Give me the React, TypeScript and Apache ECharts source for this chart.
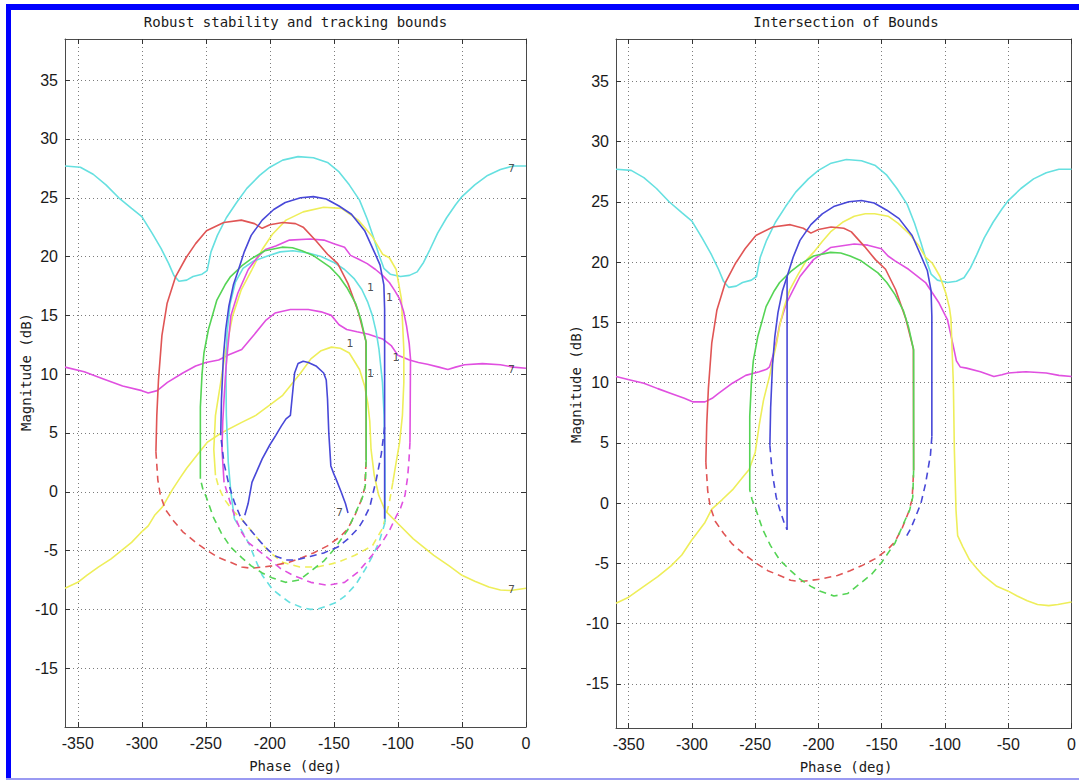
import React, { useEffect, useRef } from 'react';
import * as echarts from 'echarts';

// ---------- axis ticks / limits ----------
const phaseTicks = [-350, -300, -250, -200, -150, -100, -50, 0];
const magTicks = [-15, -10, -5, 0, 5, 10, 15, 20, 25, 30, 35];
const phaseLimits = [-360, 0];
const magLimitsLeft = [-20, 38.5];
const magLimitsRight = [-18.65, 38.5];

const titleLeft = 'Robust stability and tracking bounds';
const titleRight = 'Intersection of Bounds';
const xName = 'Phase (deg)';
const yName = 'Magnitude (dB)';

// ---------- shared bounds (phase deg, magnitude dB) ----------
const cyanTop = [
  [-360, 27.7], [-348, 27.6], [-338, 27], [-328, 26.1], [-318, 25], [-308, 24.1], [-300, 23.4], [-292, 22],
  [-285, 20.7], [-279, 19.4], [-275, 18.4], [-271, 17.9], [-265, 18.0], [-260, 18.3], [-253, 18.5], [-249, 18.8],
  [-246, 20.4], [-241, 21.8], [-234, 23.3], [-226, 24.6], [-218, 25.8], [-208, 26.9], [-200, 27.6], [-190, 28.2],
  [-178, 28.5], [-166, 28.4], [-155, 28.0], [-146, 27.2], [-138, 26.1], [-130, 24.8], [-124, 23.2], [-119, 21.6],
  [-115, 20.2], [-111, 19], [-106, 18.5], [-98, 18.3], [-91, 18.4], [-85, 18.7], [-80, 19.5], [-75, 20.6],
  [-69, 22], [-62, 23.3], [-55, 24.4], [-50, 25.1], [-40, 26.1], [-30, 26.9], [-20, 27.4], [-10, 27.7], [0, 27.7],
];

const redTop = [
  [-289, 3.4], [-288.3, 6.5], [-287, 9.5], [-284.3, 13.3], [-280.3, 16], [-273.6, 18.3], [-265.5, 19.9],
  [-258, 21.1], [-249.5, 22.2], [-236, 22.9], [-222.3, 23.1], [-212, 22.8], [-206, 22.4], [-200, 22.7],
  [-190, 22.9], [-180, 22.8], [-174, 22.5], [-163.7, 21.3], [-155, 20.2], [-147, 19.4], [-139, 17.7],
  [-131, 15.3], [-125, 12.8], [-124.8, 2.7],
];
const redBottom = [
  [-289, 3.4], [-287.5, 1], [-285.5, -0.3], [-281.6, -1.5], [-275, -2.5], [-268, -3.4], [-258, -4.3],
  [-249, -5.0], [-240, -5.6], [-230.7, -6.0], [-222, -6.4], [-214.6, -6.5], [-206, -6.4], [-198.5, -6.3],
  [-185, -6.0], [-175, -5.6], [-166, -5.2], [-155, -4.6], [-145, -3.8], [-139.5, -3.2], [-133.6, -2.0],
  [-129, -0.8], [-126, 0.3], [-124.8, 2.7],
];

const greenTop = [
  [-254.3, 1.1], [-254.3, 7.2], [-253, 10], [-251.5, 11.8], [-248, 13.8], [-241.4, 16.3], [-235, 17.6],
  [-230.7, 18.3], [-222, 19.2], [-214.6, 19.8], [-203.9, 20.5], [-190.5, 20.8], [-182.4, 20.75], [-175, 20.5],
  [-166.3, 20.1], [-153, 19.1], [-146, 18.3], [-139.5, 17.3], [-133, 16.0], [-128.8, 14.6], [-124.8, 12.7],
  [-124.8, 2.7],
];
const greenBottom = [
  [-124.8, 2.7], [-125.5, 0.5], [-128, -0.6], [-131.5, -1.4], [-139.5, -3.3], [-150, -4.9], [-158, -5.9],
  [-166.3, -6.6], [-177, -7.5], [-187.8, -7.7], [-198.5, -7.3], [-206, -6.9], [-214.6, -6.3], [-222, -5.6],
  [-230.7, -4.7], [-238, -3.5], [-244, -2.2], [-249.5, -0.5], [-252.5, 0.3], [-254.3, 1.1],
];

const blueTop = [
  [-238.4, 4.8], [-237.8, 7.9], [-236.3, 11.5], [-234.5, 13.8], [-232, 15.8], [-228.5, 17.6], [-224.8, 18.8],
  [-220, 20.4], [-214.6, 21.8], [-206, 23.1], [-197, 24], [-188, 24.6], [-176, 25], [-166, 25.1], [-156, 24.9],
  [-146, 24.3], [-136.3, 23.6], [-126, 22.2], [-118.5, 20.4], [-114, 19.3], [-111, 17.6], [-110.4, 15.5],
  [-110.4, 5.5],
];

// ---------- left panel only ----------
const magentaFlat = [
  [-360, 10.6], [-345, 10.2], [-330, 9.6], [-315, 9.0], [-300, 8.6], [-295, 8.4], [-288, 8.6], [-280, 9.3],
  [-268, 10.1], [-258, 10.7], [-250, 11.0], [-240, 11.2], [-233, 11.6], [-222, 12.1], [-212, 13.4], [-203, 14.6],
  [-196, 15.2], [-184, 15.5], [-170, 15.5], [-160, 15.3], [-152, 15.0], [-146, 14.2], [-140, 13.8], [-132, 13.6],
  [-123, 13.4], [-112, 13.0], [-105, 12.4], [-100, 11.6], [-91, 11.2], [-84, 11.0], [-77, 10.85], [-68, 10.6],
  [-61, 10.4], [-55, 10.6], [-48, 10.8], [-34, 10.9], [-20, 10.8], [-10, 10.6], [0, 10.5],
];

const yellowBig = [
  [-360, -8.2], [-350, -7.7], [-343, -7.1], [-334, -6.4], [-324, -5.7], [-316, -5.0], [-308, -4.3], [-301, -3.5],
  [-295, -2.9], [-290, -2.0], [-284, -1.3], [-276, 0.2], [-270, 1.2], [-265, 2.0], [-257, 3.1], [-249, 4.2],
  [-238, 5.0], [-222, 5.9], [-211, 6.5], [-201, 7.3], [-190, 8.2], [-182, 9.3], [-176, 10.1], [-168, 11.3],
  [-160, 12.0], [-152, 12.3], [-145, 12.2], [-138, 11.8], [-130, 10.4], [-126, 9.0], [-123.5, 7.5], [-122, 6],
  [-121, 3.6], [-118.5, 1.4], [-115, -0.3], [-110, -1.6], [-100, -2.7], [-88, -4.0], [-72, -5.4], [-60, -6.3],
  [-50, -7.1], [-40, -7.6], [-29, -8.1], [-20, -8.35], [-12, -8.4], [0, -8.2],
];

const yellowOvalTop = [
  [-242.5, 1.4], [-243.8, 3.6], [-242.5, 6.5], [-238.4, 9.3], [-234.4, 12.1], [-229, 15], [-222.3, 17.2],
  [-214, 18.9], [-206, 20.6], [-198, 21.9], [-187.4, 23.1], [-174, 23.8], [-158, 24.2], [-144, 24.1],
  [-131, 23.1], [-120, 21.7], [-112, 20.2], [-106.7, 19.9], [-101.4, 18.9], [-97.3, 16.4], [-95.4, 12.1],
  [-95.4, 9.3], [-96.5, 6.5], [-98.7, 4.2], [-101.4, 2.5], [-104, 0.8],
];
const yellowOvalBottom = [
  [-104, 0.8], [-106.7, -0.9], [-112, -3.1], [-120, -4.6], [-133.6, -5.4], [-147, -6.0], [-163, -6.4],
  [-176.6, -6.4], [-190, -6.0], [-200.8, -5.1], [-211.6, -3.7], [-222.3, -2.3], [-229, -1.6], [-235.8, -0.6],
  [-240, 0.4], [-242.5, 1.4],
];

const blueBottomLeft = [
  [-110.4, 5.5], [-113, 3.2], [-117, 1], [-122, -1.3], [-127, -2.4], [-131, -3.1], [-139, -4.0], [-147, -4.7],
  [-158, -5.2], [-168.5, -5.5], [-180, -5.8], [-187.4, -5.8], [-195, -5.5], [-200.8, -5.0], [-207, -4.3],
  [-214, -3.4], [-222.3, -2.3], [-227.7, -0.9], [-232, 0.6], [-235.8, 2.4], [-238.4, 4.8],
];
const blueVertLeft = [[-110.4, 5.5], [-110.4, -2.3]];

const blueSeven = [
  [-219.6, -2.0], [-217, -1.0], [-214, 0.8], [-210, 1.8], [-206, 2.8], [-200, 4.0], [-195.4, 4.8], [-191, 5.6],
  [-187.4, 6.2], [-184, 6.5], [-182, 8.7], [-180.7, 10.1], [-178, 10.9], [-174, 11.1], [-170, 11.0], [-164, 10.7],
  [-158, 10.1], [-156, 9.5], [-155, 7.9], [-154, 5], [-152.4, 2.2], [-150, 1.5], [-148.4, 1.1], [-144.4, 0],
  [-141, -1], [-139, -1.8],
];

const cyanOvalTop = [
  [-227.7, -2.3], [-230.5, 0], [-232.5, 2.5], [-234, 6.5], [-234.3, 10], [-233.5, 13.5], [-231, 16], [-227, 17.8],
  [-221, 19], [-213, 19.6], [-203, 20], [-192, 20.4], [-182, 20.5], [-170, 20.3], [-160, 20], [-150, 19.5],
  [-141.7, 18.9], [-134, 18.1], [-128.2, 17.2], [-123.5, 16.1], [-120, 15], [-117, 13.6], [-114.8, 12.1],
  [-112.1, 9.3], [-110.8, 6.5], [-110.2, 2], [-110, -2.6],
];
const cyanOvalBottom = [
  [-110, -2.6], [-114.8, -4.3], [-120, -5.5], [-125.6, -6.6], [-133, -7.9], [-141.7, -8.9], [-148, -9.4],
  [-155, -9.7], [-162, -9.95], [-168.5, -10], [-176, -9.8], [-184.7, -9.4], [-191, -8.9], [-198, -8.3],
  [-206, -7.1], [-211.6, -5.7], [-216, -4.5], [-222, -3.3], [-227.7, -2.3],
];

const magentaOvalTop = [
  [-235.8, 0.8], [-237.4, 3.6], [-236.8, 6], [-235.8, 7.9], [-234.3, 10.5], [-233, 12.1], [-230.4, 15],
  [-225, 16.9], [-216.9, 18.9], [-210, 19.9], [-203.5, 20.6], [-195.4, 20.9], [-184.7, 21.4], [-168.6, 21.5],
  [-157.8, 21.4], [-150, 21.1], [-141.7, 20.8], [-137, 20.1], [-131, 19.8], [-124, 19.4], [-117.5, 18.9],
  [-112, 18.4], [-106.7, 17.8], [-102.5, 17.1], [-98.7, 16.4], [-95.5, 15.3], [-93.3, 14.1], [-91.2, 12.6],
  [-90.2, 11.3], [-90.4, 7.5], [-90.6, 4.2],
];
const magentaOvalBottom = [
  [-90.6, 4.2], [-91.5, 2.5], [-92.5, 1.2], [-94.5, -0.3], [-98, -1.4], [-101.4, -2.1], [-106.7, -3.3],
  [-113, -4.4], [-120.2, -5.4], [-131, -6.8], [-141.7, -7.7], [-155, -7.95], [-168, -7.7], [-182, -7.1],
  [-192, -6.5], [-200.8, -5.7], [-210, -4.9], [-217, -4.3], [-222.3, -3.4], [-227, -2.2], [-231, -0.9],
  [-235.8, 0.8],
];

// frequency labels on the left panel: [phase, magnitude, text]
const freqLabels = [
  [-11.3, 27.5, '7'], [-11.3, 10.4, '7'], [-11.3, -8.3, '7'], [-145.7, -1.8, '7'],
  [-121.5, 17.4, '1'], [-106.5, 16.5, '1'], [-137.5, 12.6, '1'], [-101.5, 11.4, '1'], [-121.5, 10.1, '1'],
];

// ---------- right panel only ----------
const magentaRight = [
  [-360, 10.5], [-348, 10.2], [-338, 9.95], [-327, 9.5], [-316.5, 9.1], [-306, 8.7], [-299, 8.4], [-289.7, 8.4],
  [-284, 8.7], [-279, 9.1], [-268, 9.95], [-257.5, 10.6], [-246.8, 10.9], [-241, 11.1], [-238.7, 11.3],
  [-236, 12.2], [-233.4, 13.3], [-230.7, 14.8], [-225.3, 16.6], [-214.6, 18.8], [-203.9, 20.2], [-190.5, 21.2],
  [-171.7, 21.5], [-161, 21.4], [-150.3, 21.1], [-145, 20.5], [-139.5, 20.1], [-128.8, 19.4], [-115.4, 18.3],
  [-104.7, 16.6], [-98, 15.2], [-94, 13.3], [-91, 11.8], [-88, 11.3], [-83, 11.2], [-72, 10.9], [-61.4, 10.5],
  [-55, 10.65], [-50, 10.8], [-36, 10.9], [-20, 10.8], [-10, 10.6], [0, 10.5],
];

const yellowRight = [
  [-360, -8.3], [-350, -7.8], [-338, -6.9], [-327, -6.1], [-316.5, -5.2], [-308, -4.3], [-300.4, -3.1],
  [-294, -2.2], [-289.7, -1.6], [-284.3, -0.5], [-276, 0.3], [-268, 1.1], [-261, 2.0], [-254.8, 2.8],
  [-250, 4.2], [-246.8, 6.5], [-243.5, 8.5], [-241.4, 9.4], [-238.5, 10.6], [-236, 11.9], [-233, 13.3],
  [-230.7, 14.7], [-227, 16.3], [-222.7, 17.7], [-216, 19.0], [-209.2, 20.2], [-203.9, 20.8], [-197, 21.7],
  [-190.5, 22.5], [-181, 23.3], [-171.7, 23.8], [-163, 24.0], [-155.6, 24.0], [-145, 23.8], [-137, 23.2],
  [-128.8, 22.4], [-121, 21.4], [-115.4, 20.4], [-110, 19.9], [-104, 18.8], [-99.3, 17.4], [-96.5, 16.2],
  [-95.3, 15.3], [-94.5, 13], [-93.4, 9.9], [-92.6, 4.4], [-91.3, -0.6], [-90, -2.7], [-86, -3.6],
  [-80.6, -4.7], [-75, -5.4], [-69.8, -6], [-59.1, -6.9], [-50, -7.3], [-43, -7.7], [-35, -8.1], [-26.9, -8.4],
  [-18, -8.5], [-10.8, -8.4], [0, -8.2],
];

const blueDashRight1 = [[-110.4, 5.5], [-111.5, 4], [-115.4, 1.6], [-119, 0], [-123.5, -1.2], [-127, -2.1], [-130.2, -2.7]];
const blueDashRight2 = [[-238.4, 4.8], [-236.5, 2.5], [-233.4, 0.5], [-230.7, -0.5], [-227.5, -1.5], [-224.8, -2.2]];
const blueVertRight = [[-224.8, -2.2], [-224.8, 18.8]];

// ---------- styling ----------
const CYAN = '#66e0e0';
const MAGENTA = '#e050e0';
const YELLOW = '#eeee5a';
const RED = '#e05555';
const BLUE = '#4848d8';
const GREEN = '#55d455';
const DASH = [7, 5];

function line(data: number[][], color: string, dashed: boolean, panel: number) {
  return {
    type: 'line',
    data,
    xAxisIndex: panel * 2,
    yAxisIndex: panel * 2,
    showSymbol: false,
    symbol: 'none',
    silent: true,
    smooth: false,
    lineStyle: { color, width: 1.6, type: dashed ? DASH : 'solid' },
  };
}

function xAxes(grid: number) {
  const common = {
    type: 'value',
    gridIndex: grid,
    min: phaseLimits[0],
    max: phaseLimits[1],
    axisLine: { show: true, onZero: false, lineStyle: { color: '#4a4a4a', width: 1 } },
    axisTick: { show: true, inside: true, length: 5, customValues: phaseTicks, lineStyle: { color: '#333' } },
  };
  return [
    {
      ...common,
      position: 'bottom',
      axisLabel: {
        show: true, customValues: phaseTicks, margin: 8, color: '#1a1a1a',
        fontFamily: 'Liberation Sans', fontSize: 16,
      },
      splitLine: { show: true, lineStyle: { color: '#7c7c7c', type: [1, 3], width: 1 } },
    },
    { ...common, position: 'top', axisLabel: { show: false }, splitLine: { show: false } },
  ];
}

function yAxes(grid: number, lim: number[]) {
  const common = {
    type: 'value',
    gridIndex: grid,
    min: lim[0],
    max: lim[1],
    axisLine: { show: true, onZero: false, lineStyle: { color: '#4a4a4a', width: 1 } },
    axisTick: { show: true, inside: true, length: 5, customValues: magTicks, lineStyle: { color: '#333' } },
  };
  return [
    {
      ...common,
      position: 'left',
      axisLabel: {
        show: true, customValues: magTicks, margin: 7, color: '#1a1a1a',
        fontFamily: 'Liberation Sans', fontSize: 16,
      },
      splitLine: { show: true, lineStyle: { color: '#7c7c7c', type: [1, 3], width: 1 } },
    },
    { ...common, position: 'right', axisLabel: { show: false }, splitLine: { show: false } },
  ];
}

function txt(x: number, y: number, text: string, rot = 0) {
  return {
    type: 'text',
    x, y,
    rotation: rot,
    silent: true,
    style: {
      text,
      fill: '#1a1a1a',
      font: '14px "DejaVu Sans Mono"',
      textAlign: 'center',
      textVerticalAlign: 'middle',
    },
  };
}

export default function App() {
  const ref = useRef<HTMLDivElement>(null);
  useEffect(() => {
    if (!ref.current) return;
    const chart = echarts.init(ref.current, null, { renderer: 'svg' });
    const option = {
      animation: false,
      backgroundColor: '#ffffff',
      grid: [
        { left: 65, top: 39, width: 461, height: 688 },
        { left: 616, top: 39, width: 460, height: 689 },
      ],
      xAxis: [...xAxes(0), ...xAxes(1)],
      yAxis: [...yAxes(0, magLimitsLeft), ...yAxes(1, magLimitsRight)],
      series: [
        // left panel
        line(cyanTop, CYAN, false, 0),
        line(magentaFlat, MAGENTA, false, 0),
        line(yellowBig, YELLOW, false, 0),
        line(yellowOvalTop, YELLOW, false, 0),
        line(yellowOvalBottom, YELLOW, true, 0),
        line(cyanOvalTop, CYAN, false, 0),
        line(cyanOvalBottom, CYAN, true, 0),
        line(magentaOvalTop, MAGENTA, false, 0),
        line(magentaOvalBottom, MAGENTA, true, 0),
        line(redTop, RED, false, 0),
        line(redBottom, RED, true, 0),
        line(greenTop, GREEN, false, 0),
        line(greenBottom, GREEN, true, 0),
        line(blueTop, BLUE, false, 0),
        line(blueBottomLeft, BLUE, true, 0),
        line(blueVertLeft, BLUE, false, 0),
        line(blueSeven, BLUE, false, 0),
        {
          type: 'scatter',
          xAxisIndex: 0,
          yAxisIndex: 0,
          silent: true,
          symbol: 'circle',
          symbolSize: 1,
          itemStyle: { color: 'rgba(0,0,0,0)' },
          data: freqLabels.map((d) => [d[0], d[1], d[2]]),
          label: {
            show: true,
            position: 'inside',
            formatter: (p: any) => p.value[2],
            color: '#222',
            fontSize: 11,
            fontFamily: 'DejaVu Sans',
          },
          z: 10,
        },
        // right panel
        line(cyanTop, CYAN, false, 1),
        line(magentaRight, MAGENTA, false, 1),
        line(yellowRight, YELLOW, false, 1),
        line(redTop, RED, false, 1),
        line(redBottom, RED, true, 1),
        line(greenTop, GREEN, false, 1),
        line(greenBottom, GREEN, true, 1),
        line(blueTop, BLUE, false, 1),
        line(blueDashRight1, BLUE, true, 1),
        line(blueDashRight2, BLUE, true, 1),
        line(blueVertRight, BLUE, false, 1),
      ],
      graphic: [
        { type: 'rect', silent: true, shape: { x: 6, y: 4, width: 1073, height: 6 }, style: { fill: '#0000ff' } },
        { type: 'rect', silent: true, shape: { x: 6, y: 4, width: 5, height: 776 }, style: { fill: '#0000ff' } },
        { type: 'rect', silent: true, shape: { x: 6, y: 778, width: 1073, height: 2 }, style: { fill: '#9a9af2' } },
        txt(295.5, 22, titleLeft),
        txt(846, 22, titleRight),
        txt(295.5, 766, xName),
        txt(846, 767, xName),
        txt(26, 372, yName, Math.PI / 2),
        txt(576, 384, yName, Math.PI / 2),
      ],
    };
    chart.setOption(option as any);
    return () => chart.dispose();
  }, []);
  return (
    <div
      ref={ref}
      style={{ position: 'fixed', left: 0, top: 0, width: 1079, height: 780, background: '#fff' }}
    />
  );
}
